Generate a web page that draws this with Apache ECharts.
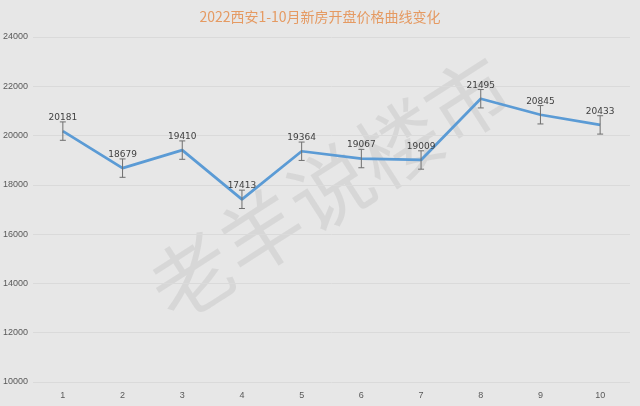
<!DOCTYPE html>
<html><head><meta charset="utf-8">
<script src="https://cdn.jsdelivr.net/npm/echarts@6/dist/echarts.min.js"></script>
<style>html,body{margin:0;padding:0;background:#e7e7e7}#c{width:640px;height:406px}</style>
</head><body><div id="c"></div>
<script>
const titleText = '2022西安1-10月新房开盘价格曲线变化';
const months = ['1','2','3','4','5','6','7','8','9','10'];
const prices = [20181, 18679, 19410, 17413, 19364, 19067, 19009, 21495, 20845, 20433];
const errors = [373, 373, 373, 373, 373, 373, 373, 373, 373, 373];
const yTicks = {min: 10000, max: 24000, interval: 2000};
const watermark = '老羊说楼市';

const errData = prices.map((v, i) => [i, v - errors[i], v + errors[i]]);

const chart = echarts.init(document.getElementById('c'), null, {renderer: 'canvas'});
chart.setOption({
  backgroundColor: '#e7e7e7',
  animation: false,
  title: {
    text: titleText, left: 'center', top: 5,
    textStyle: {color: '#e59a62', fontSize: 14, fontWeight: 'normal', fontFamily: '"Noto Sans CJK SC", sans-serif'}
  },
  graphic: [{
    type: 'text', z: 0, silent: true,
    x: 330, y: 188, rotation: 0.57,
    style: {
      text: watermark, x: 0, y: 0, align: 'center', verticalAlign: 'middle',
      font: 'normal 82px "Noto Sans CJK SC"', fill: 'rgba(0,0,0,0.065)'
    }
  }],
  grid: {left: 33, right: 10, top: 37, bottom: 24, outerBoundsMode: 'none', containLabel: false},
  xAxis: {
    type: 'category', data: months, boundaryGap: true,
    axisLine: {show: false}, axisTick: {show: false},
    axisLabel: {color: '#595959', fontSize: 9, margin: 9, fontFamily: '"Liberation Sans", sans-serif'}
  },
  yAxis: {
    type: 'value', min: yTicks.min, max: yTicks.max, interval: yTicks.interval,
    axisLine: {show: false}, axisTick: {show: false},
    axisLabel: {color: '#595959', fontSize: 9, margin: 5, fontFamily: '"Liberation Sans", sans-serif',
      formatter: v => String(v)},
    splitLine: {lineStyle: {color: '#dadada', width: 1}}
  },
  series: [{
    type: 'line', data: prices, symbol: 'circle', symbolSize: 2, showSymbol: true, z: 3,
    itemStyle: {color: 'rgba(91,155,213,0)', borderWidth: 0},
    lineStyle: {color: '#5b9bd5', width: 2.75},
    label: {show: true, position: 'top', distance: 8, color: '#404040', fontSize: 9, fontFamily: '"DejaVu Sans", sans-serif'},
    labelLayout: {hideOverlap: false}
  }, {
    type: 'custom', data: errData, z: 4,
    renderItem: function (params, api) {
      const x = api.value(0);
      const lo = api.coord([x, api.value(1)]);
      const hi = api.coord([x, api.value(2)]);
      const cap = 3;
      const style = {stroke: '#6f6f6f', lineWidth: 1};
      return {type: 'group', children: [
        {type: 'line', shape: {x1: lo[0], y1: lo[1], x2: hi[0], y2: hi[1]}, style: style},
        {type: 'line', shape: {x1: lo[0]-cap, y1: lo[1], x2: lo[0]+cap, y2: lo[1]}, style: style},
        {type: 'line', shape: {x1: hi[0]-cap, y1: hi[1], x2: hi[0]+cap, y2: hi[1]}, style: style}
      ]};
    }
  }]
});
</script></body></html>
